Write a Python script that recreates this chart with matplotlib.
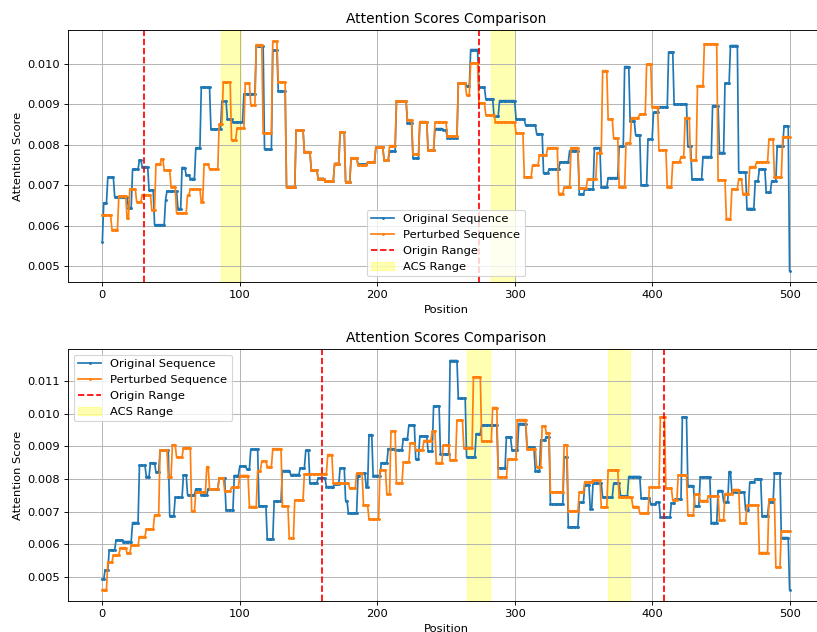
import numpy as np
import matplotlib.pyplot as plt

# Scores are piecewise constant: each list gives the start position of a
# plateau and the score held from there on.
n_pos = 501

top_orig_start = [0, 1, 4, 9, 19, 22, 27, 29, 34, 38, 46, 47, 55, 58, 61, 64, 68, 72, 79, 87,
                  91, 95, 103, 112, 118, 124, 128, 134, 141, 147, 152, 157, 162, 169, 173, 177,
                  181, 186, 193, 199, 205, 209, 214, 222, 226, 231, 237, 242, 248, 251, 259, 265,
                  268, 274, 279, 285, 289, 301, 308, 316, 321, 325, 333, 340, 347, 351, 358, 363,
                  368, 376, 380, 384, 388, 392, 397, 401, 405, 412, 416, 426, 429, 437, 444, 449,
                  453, 457, 463, 469, 475, 478, 483, 487, 491, 496, 500]
top_orig_val = [0.0056, 0.00657, 0.0072, 0.00672, 0.00645, 0.0074, 0.00763, 0.00746, 0.00688,
                0.00603, 0.00664, 0.00686, 0.00643, 0.00744, 0.00725, 0.00717, 0.00793, 0.00942,
                0.00839, 0.00907, 0.00863, 0.00856, 0.00926, 0.01045, 0.00789, 0.01033, 0.00932,
                0.00696, 0.00836, 0.00783, 0.00738, 0.00717, 0.00711, 0.00754, 0.00831, 0.00709,
                0.00768, 0.00752, 0.00757, 0.00794, 0.00763, 0.00785, 0.00907, 0.00853, 0.00768,
                0.00857, 0.00787, 0.0084, 0.00836, 0.00818, 0.00952, 0.00946, 0.01035, 0.00942,
                0.00913, 0.0087, 0.00909, 0.00863, 0.00848, 0.00827, 0.0073, 0.0074, 0.00758,
                0.00786, 0.00678, 0.00691, 0.00793, 0.00695, 0.00719, 0.00796, 0.00993, 0.00859,
                0.00824, 0.00701, 0.00814, 0.0088, 0.00894, 0.01029, 0.009, 0.00796, 0.00716,
                0.00771, 0.00897, 0.00781, 0.00952, 0.01045, 0.00732, 0.00643, 0.00711, 0.0074,
                0.00683, 0.00711, 0.00798, 0.00847, 0.0049]

top_pert_start = [0, 7, 12, 18, 20, 25, 29, 36, 39, 43, 45, 50, 54, 62, 64, 72, 74, 78, 85, 88,
                  94, 98, 104, 108, 112, 117, 124, 128, 134, 141, 147, 152, 157, 162, 169, 173,
                  177, 181, 186, 193, 199, 205, 209, 214, 222, 226, 231, 237, 242, 251, 259, 265,
                  268, 274, 279, 286, 301, 307, 313, 318, 324, 332, 336, 341, 347, 353, 360, 364,
                  368, 372, 376, 381, 385, 391, 396, 400, 405, 411, 415, 421, 424, 428, 433, 438,
                  448, 454, 458, 463, 466, 471, 476, 485, 489, 495]
top_pert_val = [0.00627, 0.00591, 0.00674, 0.0062, 0.00691, 0.00659, 0.00676, 0.00639, 0.00752,
                0.00765, 0.00738, 0.00697, 0.00632, 0.00676, 0.00691, 0.00658, 0.00752, 0.0074,
                0.00851, 0.00955, 0.00812, 0.00841, 0.00952, 0.00899, 0.01047, 0.00829, 0.01055,
                0.00955, 0.00695, 0.00836, 0.00783, 0.00738, 0.00717, 0.00711, 0.00754, 0.00831,
                0.00709, 0.00768, 0.0075, 0.00757, 0.00794, 0.00763, 0.00798, 0.00907, 0.00861,
                0.00777, 0.00857, 0.00787, 0.00856, 0.00822, 0.00952, 0.00923, 0.01002, 0.00903,
                0.00874, 0.00856, 0.00829, 0.00721, 0.0075, 0.00775, 0.00793, 0.0068, 0.00695,
                0.00793, 0.00693, 0.00716, 0.00781, 0.00983, 0.00864, 0.00816, 0.00697, 0.00804,
                0.00867, 0.00876, 0.00999, 0.00894, 0.00787, 0.00697, 0.00758, 0.00771, 0.00867,
                0.00763, 0.00946, 0.01049, 0.00713, 0.00618, 0.00691, 0.00716, 0.0068, 0.00746,
                0.00758, 0.00814, 0.0072, 0.0082]

bot_orig_start = [0, 2, 5, 10, 15, 22, 27, 32, 35, 39, 42, 49, 53, 59, 62, 68, 72, 77, 85, 90,
                  96, 100, 105, 108, 114, 120, 125, 131, 137, 144, 148, 151, 157, 163, 169, 173,
                  177, 179, 186, 188, 192, 194, 197, 203, 208, 213, 219, 223, 228, 231, 237, 241,
                  246, 253, 259, 265, 272, 276, 288, 294, 298, 303, 309, 315, 319, 323, 326, 336,
                  339, 347, 351, 355, 357, 364, 372, 377, 383, 392, 399, 403, 406, 414, 417, 422,
                  426, 431, 435, 443, 448, 452, 456, 458, 468, 471, 475, 480, 485, 489, 494, 500]
bot_orig_val = [0.00493, 0.00522, 0.00583, 0.00614, 0.00609, 0.00667, 0.00842, 0.00808, 0.0085,
                0.00821, 0.00888, 0.00688, 0.00744, 0.00813, 0.00752, 0.0077, 0.00752, 0.0077,
                0.00803, 0.00705, 0.00811, 0.0084, 0.00831, 0.00891, 0.00718, 0.00616, 0.00732,
                0.00826, 0.00814, 0.00834, 0.00888, 0.00788, 0.00803, 0.00777, 0.00785, 0.00834,
                0.00734, 0.00696, 0.00811, 0.00819, 0.00775, 0.00936, 0.00811, 0.0085, 0.00893,
                0.0089, 0.00924, 0.00965, 0.00862, 0.00932, 0.00886, 0.01024, 0.00877, 0.01163,
                0.01047, 0.00867, 0.00939, 0.00965, 0.00834, 0.00929, 0.00888, 0.0097, 0.00898,
                0.00826, 0.0092, 0.0093, 0.00723, 0.00867, 0.00654, 0.00729, 0.00783, 0.00708,
                0.00787, 0.00744, 0.00787, 0.00749, 0.00808, 0.00741, 0.00724, 0.00729, 0.00683,
                0.00727, 0.00739, 0.0099, 0.0078, 0.00718, 0.00806, 0.00667, 0.00765, 0.00731,
                0.00823, 0.0076, 0.00705, 0.0079, 0.008, 0.00688, 0.00729, 0.00818, 0.00621,
                0.00462]

bot_pert_start = [0, 4, 8, 13, 18, 21, 27, 32, 38, 42, 48, 51, 54, 59, 65, 68, 76, 78, 85, 89,
                  94, 100, 107, 113, 116, 120, 124, 131, 136, 140, 147, 164, 168, 180, 185, 190,
                  194, 202, 207, 210, 214, 219, 224, 228, 234, 240, 243, 248, 253, 258, 263, 270,
                  276, 284, 288, 295, 302, 309, 316, 320, 323, 326, 336, 339, 347, 351, 357, 363,
                  368, 376, 386, 391, 398, 406, 410, 415, 419, 426, 431, 435, 441, 449, 453, 459,
                  464, 469, 478, 485, 490, 494]
bot_pert_val = [0.00462, 0.00546, 0.00567, 0.0059, 0.00573, 0.00597, 0.00624, 0.00647, 0.0069,
                0.00888, 0.00808, 0.00905, 0.00867, 0.00896, 0.00701, 0.0076, 0.00838, 0.0077,
                0.00804, 0.00763, 0.00775, 0.00811, 0.00716, 0.00826, 0.00855, 0.00838, 0.00893,
                0.00718, 0.00619, 0.00736, 0.00816, 0.00875, 0.00787, 0.00772, 0.00818, 0.0072,
                0.00677, 0.00828, 0.00754, 0.00947, 0.00788, 0.00852, 0.00911, 0.0089, 0.00918,
                0.00946, 0.0085, 0.00903, 0.00859, 0.0098, 0.00896, 0.01113, 0.00916, 0.01019,
                0.00806, 0.00862, 0.00982, 0.00893, 0.00838, 0.00963, 0.00942, 0.0076, 0.00905,
                0.00703, 0.0076, 0.00792, 0.00797, 0.00715, 0.00828, 0.00744, 0.00716, 0.00696,
                0.00775, 0.0099, 0.00772, 0.00736, 0.00813, 0.0069, 0.00754, 0.00734, 0.00749,
                0.00675, 0.00756, 0.00768, 0.00665, 0.0072, 0.00575, 0.00739, 0.00531, 0.0064]

top_origin = [30, 274]
top_acs = [(86.5, 101), (283, 300)]
bot_origin = [160, 408.5]
bot_acs = [(265, 282), (368, 384)]


def steps(starts, vals):
    lengths = np.diff(list(starts) + [n_pos])
    return np.repeat(vals, lengths)


def draw(ax, orig, pert, origin, acs, legend_loc):
    pos = np.arange(n_pos)
    ax.plot(pos, orig, marker='.', markersize=3, label='Original Sequence')
    ax.plot(pos, pert, marker='.', markersize=3, label='Perturbed Sequence')
    for i, x in enumerate(origin):
        ax.axvline(x, color='red', linestyle='--', label='Origin Range' if i == 0 else None)
    for i, (a, b) in enumerate(acs):
        ax.axvspan(a, b, color='yellow', alpha=0.3, label='ACS Range' if i == 0 else None)
    ax.set_title('Attention Scores Comparison')
    ax.set_xlabel('Position')
    ax.set_ylabel('Attention Score')
    ax.legend(loc=legend_loc)
    ax.grid(True)


dpi = 82.5
fig = plt.figure(figsize=(817 / dpi, 632 / dpi), dpi=dpi)
ax1 = fig.add_axes([0.0832, 0.5538, 0.9253, 0.3987])
ax2 = fig.add_axes([0.0832, 0.0490, 0.9253, 0.3987])

draw(ax1, steps(top_orig_start, top_orig_val), steps(top_pert_start, top_pert_val),
     top_origin, top_acs, 'lower center')
draw(ax2, steps(bot_orig_start, bot_orig_val), steps(bot_pert_start, bot_pert_val),
     bot_origin, bot_acs, 'upper left')

plt.savefig('out.png', dpi=dpi)
